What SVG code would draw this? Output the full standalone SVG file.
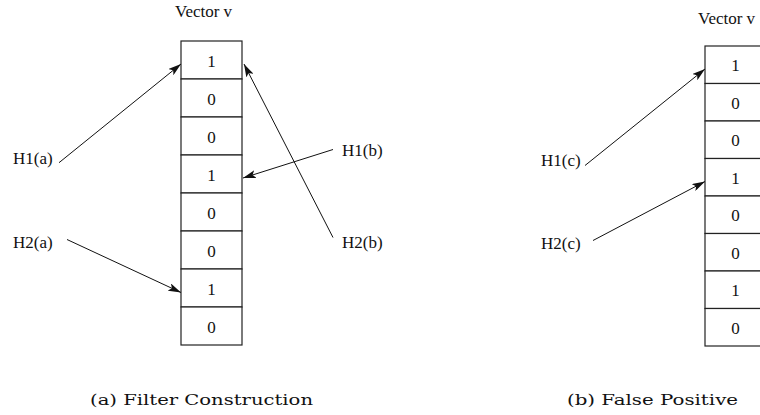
<svg xmlns="http://www.w3.org/2000/svg" width="760" height="415" viewBox="0 0 760 415">
<style>
.cell{fill:#fff;stroke:#222;stroke-width:1.2}
.t{font-family:"Liberation Serif","Times New Roman",serif;font-size:17px;fill:#111}
.c{text-anchor:middle}
.cap{font-family:"DejaVu Serif","Liberation Serif",serif;font-size:15px;fill:#111}
.conn line{stroke:#111;stroke-width:1;marker-end:url(#ah)}
</style>
<defs>
<marker id="ah" viewBox="0 0 13 8" refX="13" refY="4" markerWidth="13" markerHeight="8" markerUnits="userSpaceOnUse" orient="auto">
<path d="M0,0 L13,4 L0,8 L3,4 z" fill="#111"/>
</marker>
</defs>
<rect width="760" height="415" fill="#fff"/>

<g id="vectorA">
<text class="t" x="175" y="17">Vector v</text>
<rect class="cell" x="181" y="41" width="61" height="38"/>
<rect class="cell" x="181" y="79" width="61" height="38"/>
<rect class="cell" x="181" y="117" width="61" height="38"/>
<rect class="cell" x="181" y="155" width="61" height="38"/>
<rect class="cell" x="181" y="193" width="61" height="38"/>
<rect class="cell" x="181" y="231" width="61" height="38"/>
<rect class="cell" x="181" y="269" width="61" height="38"/>
<rect class="cell" x="181" y="307" width="61" height="38"/>
<text class="t c" x="211.5" y="66.5">1</text>
<text class="t c" x="211.5" y="104.5">0</text>
<text class="t c" x="211.5" y="142.5">0</text>
<text class="t c" x="211.5" y="180.5">1</text>
<text class="t c" x="211.5" y="218.5">0</text>
<text class="t c" x="211.5" y="256.5">0</text>
<text class="t c" x="211.5" y="294.5">1</text>
<text class="t c" x="211.5" y="332.5">0</text>
</g>

<g id="H1a"><text class="t" x="13" y="164">H1(a)</text></g>
<g id="H2a"><text class="t" x="13" y="248">H2(a)</text></g>
<g id="H1b"><text class="t" x="342" y="156">H1(b)</text></g>
<g id="H2b"><text class="t" x="342" y="248">H2(b)</text></g>

<g id="vectorB">
<text class="t" x="698" y="23.5">Vector v</text>
<rect class="cell" x="705" y="46" width="61" height="37.5"/>
<rect class="cell" x="705" y="83.5" width="61" height="37.5"/>
<rect class="cell" x="705" y="121" width="61" height="37.5"/>
<rect class="cell" x="705" y="158.5" width="61" height="37.5"/>
<rect class="cell" x="705" y="196" width="61" height="37.5"/>
<rect class="cell" x="705" y="233.5" width="61" height="37.5"/>
<rect class="cell" x="705" y="271" width="61" height="37.5"/>
<rect class="cell" x="705" y="308.5" width="61" height="37.5"/>
<text class="t c" x="735.5" y="71.3">1</text>
<text class="t c" x="735.5" y="108.8">0</text>
<text class="t c" x="735.5" y="146.3">0</text>
<text class="t c" x="735.5" y="183.8">1</text>
<text class="t c" x="735.5" y="221.3">0</text>
<text class="t c" x="735.5" y="258.8">0</text>
<text class="t c" x="735.5" y="296.3">1</text>
<text class="t c" x="735.5" y="333.8">0</text>
</g>

<g id="H1c"><text class="t" x="541" y="166">H1(c)</text></g>
<g id="H2c"><text class="t" x="541" y="249">H2(c)</text></g>

<g id="connectors" class="conn">
<line x1="59" y1="162.7" x2="181" y2="64"/>
<line x1="333" y1="149.5" x2="243" y2="178"/>
<line x1="333" y1="237.5" x2="244" y2="64"/>
<line x1="67" y1="239.5" x2="181" y2="292.5"/>
<line x1="585" y1="165.5" x2="705" y2="69"/>
<line x1="593" y1="240.5" x2="705" y2="181.5"/>
</g>

<g id="captions">
<text class="cap" x="90" y="405" textLength="223" lengthAdjust="spacingAndGlyphs">(a) Filter Construction</text>
<text class="cap" x="567" y="405" textLength="171" lengthAdjust="spacingAndGlyphs">(b) False Positive</text>
</g>
</svg>
